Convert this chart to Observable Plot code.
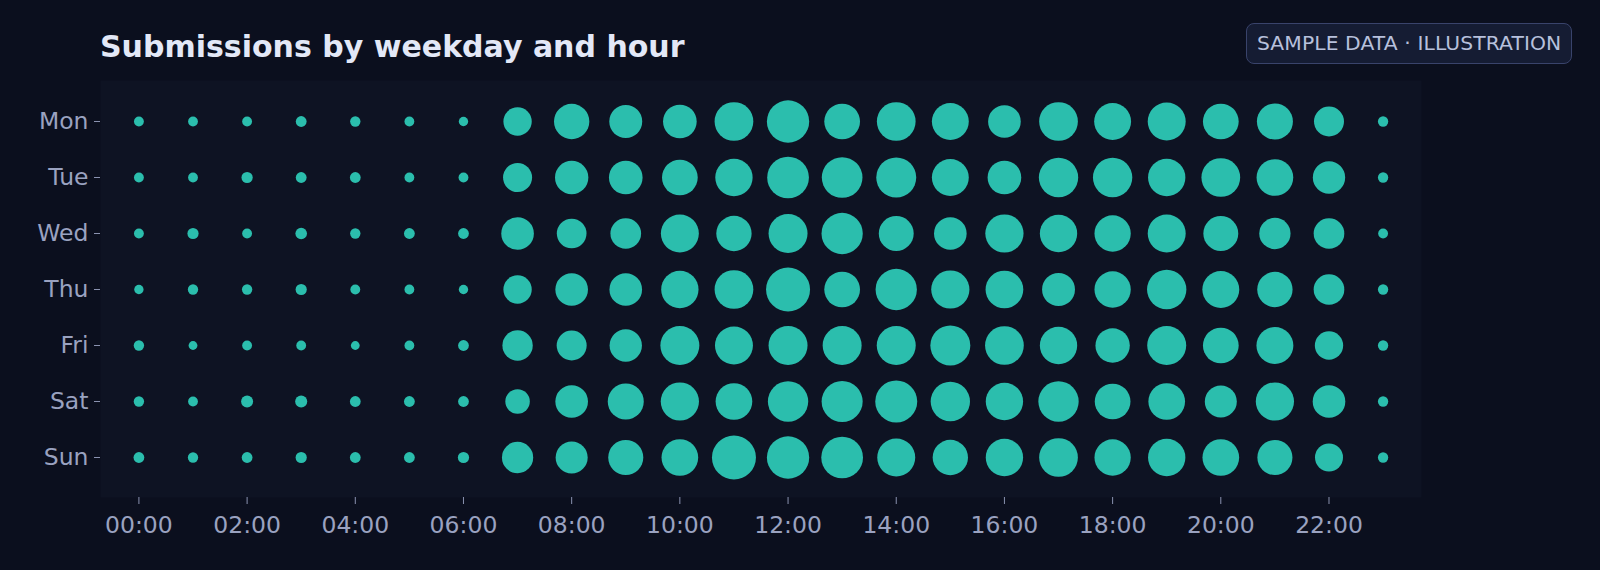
<!DOCTYPE html>
<html>
<head>
<meta charset="utf-8">
<script src="https://cdn.jsdelivr.net/npm/d3@7"></script>
<script src="https://cdn.jsdelivr.net/npm/@observablehq/plot@0.6"></script>
<style>
  html, body { margin: 0; padding: 0; background: #0b0f1e; }
  #wrap { position: relative; width: 1600px; height: 570px; overflow: hidden; }
  #title { position: absolute; left: 100px; top: 27px; font-family: "DejaVu Sans", sans-serif; font-weight: bold; font-size: 30px; line-height: 40px; color: #e3e8f7; white-space: nowrap; }
  #badge { position: absolute; left: 1246px; top: 23px; height: 39px; box-sizing: content-box; padding: 0 10px; border: 1.5px solid #39436b; border-radius: 8px; background: #151c33; font-family: "DejaVu Sans", sans-serif; font-size: 20.3px; letter-spacing: 0.1px; line-height: 39px; color: #b7c0dc; white-space: nowrap; }
  #chart { position: absolute; left: 0; top: 0; }
</style>
</head>
<body>
<div id="wrap">
  <div id="chart"></div>
  <div id="title">Submissions by weekday and hour</div>
  <div id="badge">SAMPLE DATA · ILLUSTRATION</div>
</div>
<script>
const days = ["Mon", "Tue", "Wed", "Thu", "Fri", "Sat", "Sun"];
const hours = [0,1,2,3,4,5,6,7,8,9,10,11,12,13,14,15,16,17,18,19,20,21,22,23];
const tickHours = [0,2,4,6,8,10,12,14,16,18,20,22];
const tickLabels = ["00:00","02:00","04:00","06:00","08:00","10:00","12:00","14:00","16:00","18:00","20:00","22:00"];

const mon = [10, 10, 10, 12, 11, 10, 9, 83, 129, 112, 117, 155, 185, 132, 155, 141, 110, 155, 141, 149, 132, 134, 93, 11];
const tue = [10, 10, 13, 12, 12, 10, 10, 87, 115, 117, 132, 144, 180, 171, 165, 141, 117, 160, 160, 144, 155, 139, 108, 11];
const wed = [10, 13, 10, 14, 11, 12, 12, 110, 91, 97, 149, 129, 157, 176, 126, 110, 151, 144, 136, 149, 126, 101, 97, 10];
const thu = [9, 11, 11, 13, 10, 10, 9, 83, 110, 110, 144, 155, 200, 132, 176, 151, 147, 112, 136, 160, 141, 129, 97, 11];
const fri = [11, 8, 10, 10, 8, 10, 12, 95, 93, 108, 157, 149, 157, 157, 157, 165, 155, 144, 122, 157, 132, 141, 83, 11];
const sat = [11, 10, 15, 15, 12, 12, 12, 62, 110, 134, 151, 139, 168, 174, 182, 160, 144, 168, 132, 139, 106, 151, 110, 11];
const sun = [12, 11, 12, 13, 12, 12, 13, 101, 106, 127, 139, 200, 185, 180, 149, 129, 144, 155, 136, 144, 139, 127, 81, 11];

const series = [mon, tue, wed, thu, fri, sat, sun];
const data = [];
days.forEach((d, i) => hours.forEach((h, j) => data.push({day: d, hour: h, count: series[i][j]})));

const chart = Plot.plot({
  width: 1600,
  height: 570,
  marginLeft: 100,
  marginRight: 179,
  marginTop: 80,
  marginBottom: 73,
  style: {background: "transparent", color: "#9aa2c0", fontFamily: "DejaVu Sans, sans-serif", fontSize: "23.5px"},
  x: {domain: [-0.71, 23.71], ticks: tickHours, tickFormat: h => tickLabels[tickHours.indexOf(h)], label: null},
  y: {type: "point", domain: days, padding: 0.68, label: null},
  r: {domain: [0, 200], range: [0, 22]},
  marks: [
    Plot.frame({fill: "#0e1323", stroke: null}),
    Plot.axisX({ticks: tickHours, tickFormat: h => tickLabels[tickHours.indexOf(h)], tickSize: 7, tickPadding: 12, stroke: "#8a92b0", fill: "#9aa2c0", label: null}),
    Plot.axisY({tickSize: 6, tickPadding: 6, stroke: "#8a92b0", fill: "#9aa2c0", label: null}),
    Plot.dot(data, {x: "hour", y: "day", r: "count", fill: "#2bbead", stroke: null})
  ]
});
document.getElementById("chart").appendChild(chart);
</script>
</body>
</html>
